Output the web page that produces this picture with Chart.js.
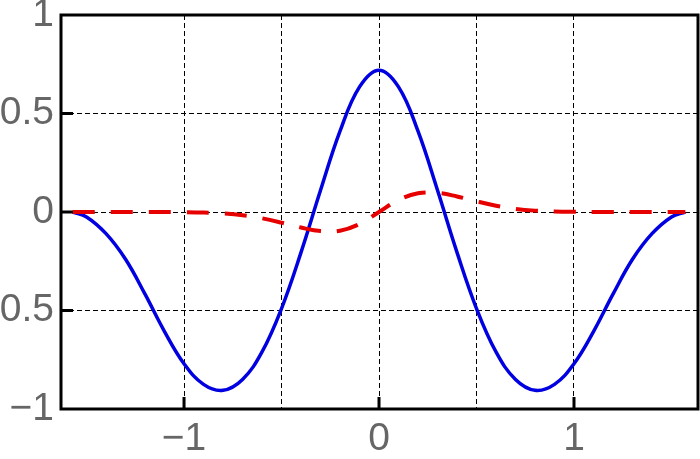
<!DOCTYPE html>
<html>
<head>
<meta charset="utf-8">
<script src="https://cdn.jsdelivr.net/npm/chart.js@4"></script>
<style>
  body { margin: 0; background: #fff; }
  canvas { display: block; }
</style>
</head>
<body>
<canvas id="grafica" width="700" height="459"></canvas>
<script>
// ------------------ datos ------------------

// valores de x (de -pi/2 a pi/2)
const xValues = [
    -1.5708, -1.5, -1.4, -1.3, -1.2, -1.1, -1.0, -0.9, -0.8, -0.7, -0.6,
    -0.5, -0.4, -0.3, -0.2, -0.1, 0, 0.1, 0.2, 0.3, 0.4, 0.5,
    0.6, 0.7, 0.8, 0.9, 1.0, 1.1, 1.2, 1.3, 1.4, 1.5, 1.5708,
];

// curva azul (continua)
const blueValues = [
    0, -0.025, -0.11, -0.24, -0.417, -0.607, -0.77, -0.875, -0.905, -0.85, -0.71,
    -0.49, -0.205, 0.11, 0.41, 0.635, 0.72, 0.635, 0.41, 0.11, -0.205, -0.49,
    -0.71, -0.85, -0.905, -0.875, -0.77, -0.607, -0.417, -0.24, -0.11, -0.025, 0,
];

// curva roja (discontinua)
const redValues = [
    0, 0, 0, 0, 0, 0, -0.001, -0.003, -0.007, -0.016, -0.032,
    -0.054, -0.079, -0.097, -0.095, -0.061, 0, 0.061, 0.095, 0.097, 0.079, 0.054,
    0.032, 0.016, 0.007, 0.003, 0.001, 0, 0, 0, 0, 0, 0,
];

// marcas de los ejes
const xTicks = [-1, -0.5, 0, 0.5, 1];
const xLabeled = [-1, 0, 1];
const yTicks = [-1, -0.5, 0, 0.5, 1];
const yTickLabels = ["\u22121", "\u22120.5", "0", "0.5", "1"];

const xMin = -1.631;
const xMax = 1.636;

// ------------------ grafico ------------------

const puntos = (ys) => xValues.map((x, i) => ({ x: x, y: ys[i] }));

// marco negro y marcas hacia dentro
const marco = {
    id: "marco",
    afterDraw(chart) {
        const { ctx, chartArea: a, scales } = chart;
        ctx.save();
        ctx.strokeStyle = "#000";
        ctx.lineWidth = 3;
        ctx.setLineDash([]);
        ctx.beginPath();
        [-0.5, 0, 0.5].forEach((v) => {
            const y = scales.y.getPixelForValue(v);
            ctx.moveTo(a.left, y);
            ctx.lineTo(a.left + 12, y);
        });
        xLabeled.forEach((v) => {
            const x = scales.x.getPixelForValue(v);
            ctx.moveTo(x, a.bottom);
            ctx.lineTo(x, a.bottom - 12);
        });
        ctx.stroke();
        ctx.strokeRect(a.left, a.top, a.right - a.left, a.bottom - a.top);
        ctx.restore();
    },
};

const fuente = { family: "'Liberation Sans', Arial, sans-serif", size: 39 };

new Chart(document.getElementById("grafica").getContext("2d"), {
    type: "line",
    data: {
        datasets: [
            {
                data: puntos(redValues),
                borderColor: "#e60000",
                borderWidth: 4,
                borderDash: [22, 16],
                pointRadius: 0,
                tension: 0.4,
                order: 0,
            },
            {
                data: puntos(blueValues),
                borderColor: "#0000e0",
                borderWidth: 3.5,
                pointRadius: 0,
                tension: 0.4,
                order: 1,
            },
        ],
    },
    options: {
        responsive: false,
        animation: false,
        devicePixelRatio: 1,
        layout: { padding: { top: 15, right: 2, left: 0, bottom: 0 } },
        plugins: { legend: { display: false }, tooltip: { enabled: false } },
        scales: {
            x: {
                type: "linear",
                min: xMin,
                max: xMax,
                afterBuildTicks: (s) => { s.ticks = xTicks.map((v) => ({ value: v })); },
                afterFit: (s) => { s.height = 50; s.paddingLeft = 0; s.paddingRight = 0; },
                grid: { color: "#000", lineWidth: 1, drawTicks: false },
                border: { display: false, dash: [5, 3] },
                ticks: {
                    autoSkip: false,
                    maxRotation: 0,
                    padding: 7,
                    color: "#666",
                    font: fuente,
                    callback: (v) => (xLabeled.includes(v) ? String(v).replace("-", "\u2212") : ""),
                },
            },
            y: {
                type: "linear",
                min: -1,
                max: 1,
                afterBuildTicks: (s) => { s.ticks = yTicks.map((v) => ({ value: v })); },
                afterFit: (s) => { s.width = 61; s.paddingTop = 0; s.paddingBottom = 0; },
                grid: { color: "#000", lineWidth: 1, drawTicks: false },
                border: { display: false, dash: [5, 3] },
                ticks: {
                    autoSkip: false,
                    padding: 7,
                    color: "#666",
                    font: fuente,
                    callback: (v) => yTickLabels[yTicks.indexOf(v)],
                },
            },
        },
    },
    plugins: [marco],
});
</script>
</body>
</html>
